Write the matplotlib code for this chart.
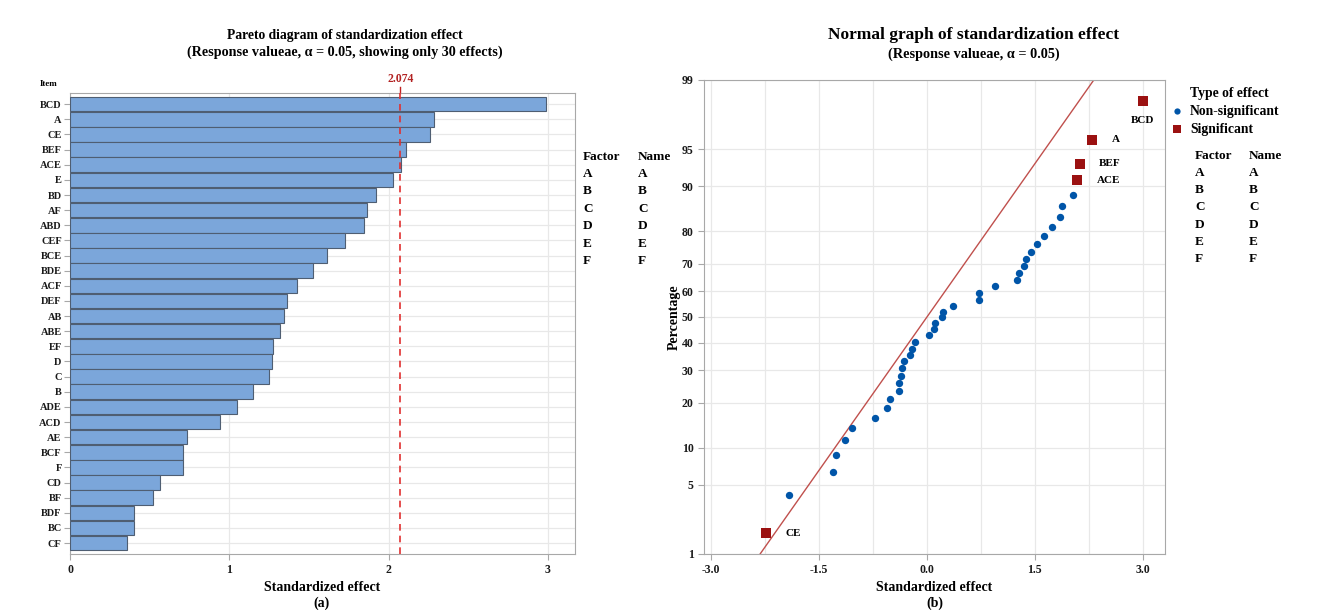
import math
import numpy as np
import matplotlib
matplotlib.use("Agg")
import matplotlib.pyplot as plt
from matplotlib import transforms
from matplotlib.lines import Line2D

# Pareto data (standardized effects, top to bottom)
terms = ["BCD", "A", "CE", "BEF", "ACE", "E", "BD", "AF", "ABD", "CEF",
         "BCE", "BDE", "ACF", "DEF", "AB", "ABE", "EF", "D", "C", "B",
         "ADE", "ACD", "AE", "BCF", "F", "CD", "BF", "BDF", "BC", "CF"]
effects = [2.989, 2.288, 2.257, 2.110, 2.079, 2.029, 1.923, 1.867, 1.845, 1.725,
           1.613, 1.523, 1.428, 1.365, 1.345, 1.318, 1.273, 1.266, 1.250, 1.146,
           1.047, 0.941, 0.734, 0.707, 0.707, 0.563, 0.523, 0.403, 0.403, 0.358]
ref_value = 2.074

# normal plot data
sig_terms = ["BCD", "A", "BEF", "ACE", "CE"]
sig_x = [3.00, 2.30, 2.125, 2.088, -2.24]
sig_pct = [98.3, 95.9, 93.4, 91.0, 1.69]
ns_x = [2.037, 1.880, 1.852, 1.732, 1.630, 1.528, 1.444, 1.380, 1.356, 1.282,
        1.255, 0.944, 0.722, 0.722, 0.366, 0.227, 0.204, 0.106, 0.093, 0.028,
        -0.167, -0.204, -0.231, -0.315, -0.343, -0.356, -0.394, -0.394, -0.519, -0.556,
        -0.727, -1.037, -1.139, -1.259, -1.310, -1.921]
ns_pct = [88.5, 86.1, 83.7, 81.1, 78.7, 76.3, 73.8, 71.4, 69.0, 66.6,
          64.2, 62.0, 59.3, 56.7, 54.3, 52.1, 50.1, 47.8, 45.2, 42.9,
          40.4, 37.8, 35.5, 33.3, 30.7, 28.2, 25.9, 23.4, 21.0, 18.5,
          16.1, 13.7, 11.4, 8.8, 6.4, 4.0]
fit_x = [-2.32, 2.32]
fit_pct = [1, 99]
pct_ticks = [1, 5, 10, 20, 30, 40, 50, 60, 70, 80, 90, 95, 99]
factors = ["A", "B", "C", "D", "E", "F"]

plt.rcParams["font.family"] = ["Liberation Serif", "DejaVu Serif"]
plt.rcParams["font.weight"] = "bold"

_erf = np.vectorize(math.erf, otypes=[float])


def norm_cdf(z):
    return 0.5 * (1 + _erf(np.asarray(z, float) / math.sqrt(2)))


def norm_ppf(p):
    # bisection, no scipy here
    p = np.clip(np.asarray(p, float), 1e-12, 1 - 1e-12)
    lo = np.full(p.shape, -10.0)
    hi = np.full(p.shape, 10.0)
    for _ in range(55):
        mid = (lo + hi) / 2
        below = norm_cdf(mid) < p
        lo = np.where(below, mid, lo)
        hi = np.where(below, hi, mid)
    return (lo + hi) / 2


W, H = 1342, 610
fig = plt.figure(figsize=(W / 100, H / 100), dpi=100)
grey = "#a8a8a8"
txt = "#1a1a1a"


def fx(px):
    return px / W


def fy(py):
    return 1 - py / H


# ---------- (a) Pareto ----------
ax1 = fig.add_axes([fx(70), fy(554), fx(575) - fx(70), fy(92.7) - fy(554)])
y = np.arange(len(terms))
ax1.barh(y, effects, height=0.96, color="#7BA6DA", edgecolor="#4F5E72", linewidth=0.8, zorder=3)
ax1.set_ylim(len(terms) - 0.5 + 0.22, -0.5 - 0.26)
ax1.set_xlim(0, 3.17)
ax1.set_yticks(y)
ax1.set_yticklabels(terms)
ax1.set_xticks([0, 1, 2, 3])
ax1.grid(True, color="#e8e8e8", linewidth=0.9, zorder=0)
ax1.set_axisbelow(True)
ax1.axvline(ref_value, color="#e03030", linestyle=(0, (4, 3)), linewidth=1.2, zorder=4)
tr = transforms.blended_transform_factory(ax1.transData, ax1.transAxes)
ax1.plot([ref_value, ref_value], [1.0, 1.012], color="#c02020", lw=1, transform=tr, clip_on=False)
ax1.text(ref_value, 1.016, f"{ref_value:.3f}", transform=tr, ha="center", va="bottom",
         color="#b22222", fontsize=8.5, fontweight="bold")
ax1.tick_params(axis="y", labelsize=7.5, length=4, color=grey, labelcolor=txt, pad=2)
ax1.tick_params(axis="x", labelsize=8.5, length=4, color=grey, labelcolor=txt)
for s in ax1.spines.values():
    s.set_color(grey)
ax1.set_xlabel("Standardized effect", fontsize=10, fontweight="bold")
ax1.xaxis.set_label_coords(0.5, -(581 - 554) / 461.3)
fig.text(fx(49), fy(84), "Item", fontsize=6.5, ha="center", va="center", fontweight="bold")
fig.text(fx(345), fy(36), "Pareto diagram of standardization effect", fontsize=9.8,
         ha="center", va="center", fontweight="bold")
fig.text(fx(345), fy(52), "(Response valueae, \u03b1 = 0.05, showing only 30 effects)", fontsize=10.2,
         ha="center", va="center", fontweight="bold")
fig.text(fx(322), fy(603), "(a)", fontsize=10, ha="center", va="center", fontweight="bold")

# factor table (left)
fig.text(fx(583), fy(157), "Factor", fontsize=9.5, va="center", fontweight="bold")
fig.text(fx(638), fy(157), "Name", fontsize=9.5, va="center", fontweight="bold")
for i, f in enumerate(factors):
    yy = 174 + i * 17.4
    fig.text(fx(583), fy(yy), f, fontsize=9.5, va="center", fontweight="bold")
    fig.text(fx(638), fy(yy), f, fontsize=9.5, va="center", fontweight="bold")

# ---------- (b) Normal plot ----------
ax2 = fig.add_axes([fx(704), fy(554), fx(1165) - fx(704), fy(80) - fy(554)])
ax2.set_yscale("function", functions=(lambda v: norm_ppf(np.asarray(v) / 100),
                                      lambda z: 100 * norm_cdf(z)))
ax2.set_ylim(1, 99)
ax2.set_xlim(-3.1, 3.31)
ax2.set_yticks(pct_ticks)
ax2.set_yticklabels([str(t) for t in pct_ticks])
ax2.yaxis.set_minor_locator(matplotlib.ticker.NullLocator())
ax2.set_xticks([-3.0, -1.5, 0.0, 1.5, 3.0])
ax2.set_xticklabels(["-3.0", "-1.5", "0.0", "1.5", "3.0"])
ax2.set_xticks(np.arange(-3.0, 3.01, 0.75), minor=True)
ax2.grid(True, which="both", color="#e8e8e8", linewidth=0.9, zorder=0)
ax2.set_axisbelow(True)
ax2.tick_params(axis="both", which="major", labelsize=8.5, length=4, color=grey, labelcolor=txt)
ax2.tick_params(axis="x", which="minor", length=0)
for s in ax2.spines.values():
    s.set_color(grey)

ax2.plot(fit_x, fit_pct, color="#c0504d", lw=1.0, zorder=2)
ax2.plot(ns_x, ns_pct, "o", color="#0055a8", markersize=5.3, markeredgewidth=0, zorder=3)
ax2.plot(sig_x, sig_pct, "s", color="#9b1111", markersize=6.5, markeredgewidth=0, zorder=3)
for t, xv, pv in zip(sig_terms, sig_x, sig_pct):
    if t == "BCD":
        ax2.annotate(t, (xv, pv), xytext=(0, -14), textcoords="offset points",
                     ha="center", va="center", fontsize=8, fontweight="bold")
    else:
        ax2.annotate(t, (xv, pv), xytext=(14, 0), textcoords="offset points",
                     ha="left", va="center", fontsize=8, fontweight="bold")

ax2.set_xlabel("Standardized effect", fontsize=10, fontweight="bold")
ax2.xaxis.set_label_coords(0.5, -(581 - 554) / 474)
ax2.set_ylabel("Percentage", fontsize=10, fontweight="bold")
ax2.yaxis.set_label_coords(-(704 - 681) / 461, 0.5)
fig.text(fx(974), fy(35), "Normal graph of standardization effect", fontsize=12.5,
         ha="center", va="center", fontweight="bold")
fig.text(fx(974), fy(54), "(Response valueae, \u03b1 = 0.05)", fontsize=10.3,
         ha="center", va="center", fontweight="bold")
fig.text(fx(935), fy(603), "(b)", fontsize=10, ha="center", va="center", fontweight="bold")

# legend (right)
fig.text(fx(1190), fy(94), "Type of effect", fontsize=9.8, va="center", fontweight="bold")
fig.add_artist(Line2D([fx(1177)], [fy(111)], marker="o", color="#0055a8", markersize=4.5,
                      markeredgewidth=0, transform=fig.transFigure))
fig.text(fx(1190), fy(111), "Non-significant", fontsize=9.8, va="center", fontweight="bold")
fig.add_artist(Line2D([fx(1177)], [fy(129)], marker="s", color="#9b1111", markersize=6,
                      markeredgewidth=0, transform=fig.transFigure))
fig.text(fx(1190), fy(129), "Significant", fontsize=9.8, va="center", fontweight="bold")
fig.text(fx(1195), fy(156), "Factor", fontsize=9.5, va="center", fontweight="bold")
fig.text(fx(1249), fy(156), "Name", fontsize=9.5, va="center", fontweight="bold")
for i, f in enumerate(factors):
    yy = 173 + i * 17.2
    fig.text(fx(1195), fy(yy), f, fontsize=9.5, va="center", fontweight="bold")
    fig.text(fx(1249), fy(yy), f, fontsize=9.5, va="center", fontweight="bold")

fig.savefig("out.png", dpi=100)
